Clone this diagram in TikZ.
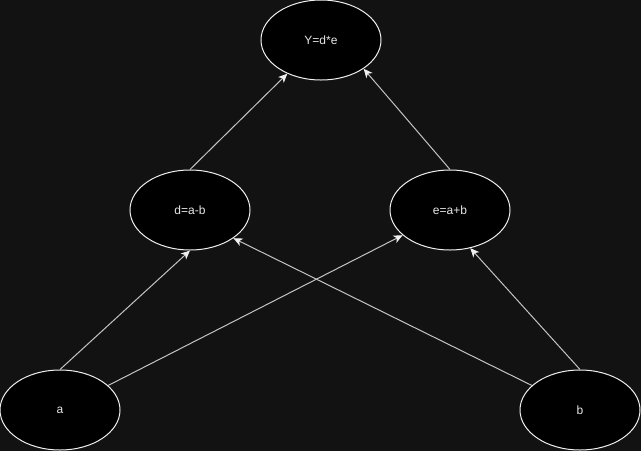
\documentclass[tikz,border=0pt]{standalone}
\usepackage{fontspec}
\setmainfont{Liberation Sans}
\usetikzlibrary{shapes.geometric,arrows.meta}
\definecolor{bgc}{HTML}{121212}
\definecolor{edgec}{HTML}{C4C4C4}
\definecolor{rimc}{HTML}{F0F0F0}
\definecolor{txtc}{HTML}{E6E6E6}
\tikzset{
  opnode/.style={ellipse, draw=rimc, fill=black, line width=1pt,
    minimum width=120pt, minimum height=80pt, inner sep=0pt,
    text=txtc, font=\fontsize{12}{14}\selectfont},
  arr/.style={draw=edgec, line width=1pt,
    -{Stealth[length=9pt,width=8pt,inset=2.5pt,color=rimc]}}
}
\begin{document}
\begin{tikzpicture}[x=1pt,y=-1pt]
\fill[bgc] (0,0) rectangle (641,451);
\useasboundingbox (0,0) rectangle (641,451);
\node[opnode] (Y) at (321,40) {Y=d*e};
\node[opnode] (d) at (190,210) {d=a-b};
\node[opnode] (e) at (450,210) {e=a+b};
\node[opnode] (a) at (60,410) {a};
\node[opnode] (b) at (580,410) {b};
\draw[arr] (a.north) -- (d.south);
\draw[arr] (a.27.5) -- (e.-152.7);
\draw[arr] (b.153.6) -- (d.-33.5);
\draw[arr] (b.north) -- (e.-62);
\draw[arr] (d.north) -- (Y.-135.6);
\draw[arr] (e.north) -- (Y.-34.7);
\end{tikzpicture}
\end{document}
